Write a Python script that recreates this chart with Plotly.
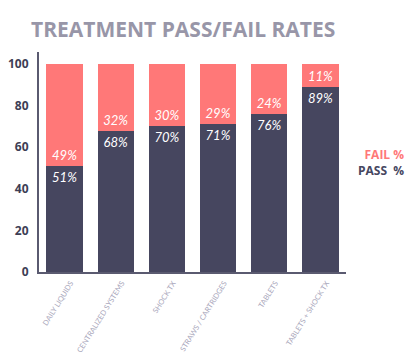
import plotly.graph_objects as go

categories = ["DAILY LIQUIDS", "CENTRALIZED SYSTEMS", "SHOCK TX", "STRAWS / CARTRIDGES", "TABLETS", "TABLETS + SHOCK TX"]
pass_pct = [51, 68, 70, 71, 76, 89]
fail_pct = [49, 32, 30, 29, 24, 11]
y_ticks = [0, 20, 40, 60, 80, 100]

PASS_C = "#46465f"
FAIL_C = "#ff7878"

fig = go.Figure()
fig.add_trace(go.Bar(x=categories, y=pass_pct, name="PASS %", marker=dict(color=PASS_C, line=dict(width=0)),
                     text=[f"{v}%" for v in pass_pct], textposition="inside", insidetextanchor="end",
                     textfont=dict(family="Lato", size=13, color="white"), textangle=0,
                     texttemplate="<i>%{text}</i>"))
fig.add_trace(go.Bar(x=categories, y=fail_pct, name="FAIL %", marker=dict(color=FAIL_C, line=dict(width=0)),
                     text=[f"{v}%" for v in fail_pct], textposition="inside", insidetextanchor="start",
                     textfont=dict(family="Lato", size=13, color="white"), textangle=0,
                     texttemplate="<i>%{text}</i>"))

fig.update_layout(
    barmode="stack",
    bargap=0.29,
    width=408, height=347,
    margin=dict(l=31, r=70, t=44, b=83, autoexpand=False),
    paper_bgcolor="white", plot_bgcolor="white",
    showlegend=False,
    title=dict(text="<b>TREATMENT PASS/FAIL RATES</b>", x=0.0564, xanchor="left", y=0.9366, yanchor="middle",
               font=dict(family="Open Sans", size=21, color="#9896a8")),
    xaxis=dict(showline=True, linecolor="#5a5a70", linewidth=2, tickangle=-58, automargin=False,
               tickfont=dict(family="Lato", size=7.4, color="#aaa8bc"), ticks="", showgrid=False,
               ticklabelshift=6, ticklabelstandoff=2),
    yaxis=dict(range=[0, 105.8], showline=True, linecolor="#5a5a70", linewidth=2, showgrid=False,
               automargin=False,
               tickvals=y_ticks, ticktext=[f"<b>{v}</b>" for v in y_ticks], ticks="", zeroline=False,
               tickfont=dict(family="Open Sans", size=12, color="#3e3e55"), ticklabelstandoff=6),
)

fig.add_annotation(text=f"<b><span style='color:{FAIL_C}'>FAIL %</span><br>PASS  %</b>",
                   xref="paper", yref="paper", x=1.195, y=0.498, xanchor="right", yanchor="middle", align="right",
                   showarrow=False, font=dict(family="Open Sans", size=12, color=PASS_C))

fig.write_html("out.html")
